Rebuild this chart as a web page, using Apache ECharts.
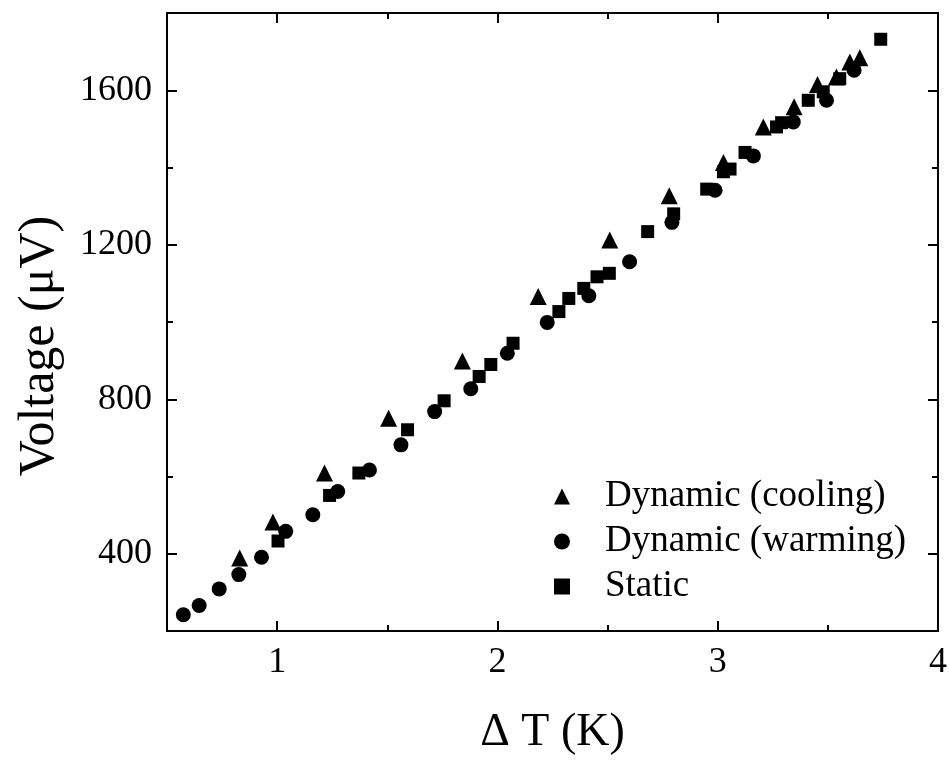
<!DOCTYPE html>
<html><head><meta charset="utf-8">
<script src="https://cdn.jsdelivr.net/npm/echarts@6/dist/echarts.min.js"></script>
<style>html,body{margin:0;padding:0;background:#fff}#c{width:950px;height:761px}</style>
</head><body><div id="c"></div>
<script>
// ---- data ----
const xMajorTicks = [1, 2, 3, 4];
const xMinorTicks = [1.5, 2.5, 3.5];
const yMajorTicks = [400, 800, 1200, 1600];
const yMinorTicks = [600, 1000, 1400];

const seriesNames = ['Dynamic (cooling)', 'Dynamic (warming)', 'Static'];

const coolingData = [
  [0.830, 389], [0.981, 482], [1.215, 609], [1.506, 751], [1.841, 899],
  [2.185, 1066], [2.510, 1212], [2.780, 1327], [3.026, 1413], [3.207, 1505],
  [3.347, 1557], [3.453, 1615], [3.539, 1634], [3.600, 1673], [3.645, 1684]
];
const warmingData = [
  [0.574, 242], [0.646, 266], [0.737, 309], [0.826, 346], [0.929, 391],
  [1.039, 458], [1.162, 501], [1.275, 561], [1.419, 617], [1.562, 682],
  [1.715, 768], [1.879, 827], [2.045, 919], [2.226, 999], [2.415, 1068],
  [2.600, 1156], [2.792, 1258], [2.988, 1341], [3.162, 1430], [3.343, 1518],
  [3.494, 1574], [3.619, 1652]
];
const staticData = [
  [1.004, 433], [1.238, 551], [1.371, 609], [1.592, 721], [1.758, 796],
  [1.917, 859], [1.970, 890], [2.071, 945], [2.279, 1027], [2.324, 1061],
  [2.392, 1087], [2.452, 1117], [2.508, 1126], [2.682, 1234], [2.800, 1280],
  [2.950, 1344], [3.026, 1389], [3.056, 1396], [3.124, 1439], [3.267, 1505],
  [3.290, 1516], [3.411, 1574], [3.479, 1596], [3.554, 1630], [3.740, 1732]
];

// ---- chart ----
const FONT = "'Liberation Serif', 'DejaVu Serif', 'Times New Roman', serif";
const X_MIN = 0.5, X_MAX = 4, Y_MIN = 200, Y_MAX = 1800;

function axis(kind, position, ticks, len, opts) {
  const isX = kind === 'x';
  const a = {
    type: 'value', position: position,
    min: isX ? X_MIN : Y_MIN, max: isX ? X_MAX : Y_MAX,
    splitLine: { show: false },
    axisLine: { show: !!opts.line, onZero: false, lineStyle: { color: '#000', width: 2 } },
    axisTick: { show: true, inside: true, length: len, customValues: ticks,
                lineStyle: { color: '#000', width: 2 } },
    axisLabel: { show: false },
    z: 5
  };
  if (opts.labels) {
    a.axisLabel = { show: true, customValues: opts.labels, color: '#000',
                    fontFamily: FONT, fontSize: 36, margin: isX ? 14 : 15,
                    showMinLabel: true, showMaxLabel: true,
                    formatter: function (v) { return String(v); } };
  }
  if (opts.name) {
    a.name = opts.name;
    a.nameLocation = 'middle';
    a.nameGap = opts.nameGap;
    a.nameTextStyle = Object.assign({ color: '#000', fontFamily: FONT, fontSize: opts.nameSize }, opts.nameStyle || {});
  }
  return a;
}

const chart = echarts.init(document.getElementById('c'), null, { renderer: 'canvas' });
chart.setOption({
  backgroundColor: '#fff',
  animation: false,
  grid: { left: 167, right: 10, top: 13, bottom: 128, containLabel: false },
  xAxis: [
    axis('x', 'bottom', [1, 2, 3], 10, { line: true, labels: xMajorTicks, name: '\u0394 T (K)', nameGap: 79, nameSize: 46 }),
    axis('x', 'bottom', xMinorTicks, 6, {}),
    axis('x', 'top', [1, 2, 3], 10, { line: true }),
    axis('x', 'top', xMinorTicks, 6, {})
  ],
  yAxis: [
    axis('y', 'left', yMajorTicks, 10, { line: true, labels: yMajorTicks, name: 'Voltage (\u03bcV)', nameGap: 102, nameSize: 50,
      nameStyle: { padding: [0, 48, 0, 0] } }),
    axis('y', 'left', yMinorTicks, 6, {}),
    axis('y', 'right', yMajorTicks, 10, { line: true }),
    axis('y', 'right', yMinorTicks, 6, {})
  ],
  legend: {
    orient: 'vertical', left: 549, top: 473,
    itemWidth: 16, itemHeight: 16, itemGap: 8,
    data: seriesNames,
    textStyle: { color: '#000', fontFamily: FONT, fontSize: 37, padding: [0, 0, 0, 30] }
  },
  series: [
    { name: seriesNames[0], type: 'scatter', symbol: 'triangle', symbolSize: 17,
      itemStyle: { color: '#000', opacity: 1 }, data: coolingData, xAxisIndex: 0, yAxisIndex: 0 },
    { name: seriesNames[1], type: 'scatter', symbol: 'circle', symbolSize: 15,
      itemStyle: { color: '#000', opacity: 1 }, data: warmingData, xAxisIndex: 0, yAxisIndex: 0 },
    { name: seriesNames[2], type: 'scatter', symbol: 'rect', symbolSize: 13,
      itemStyle: { color: '#000', opacity: 1 }, data: staticData, xAxisIndex: 0, yAxisIndex: 0 }
  ]
});
</script>
</body></html>
